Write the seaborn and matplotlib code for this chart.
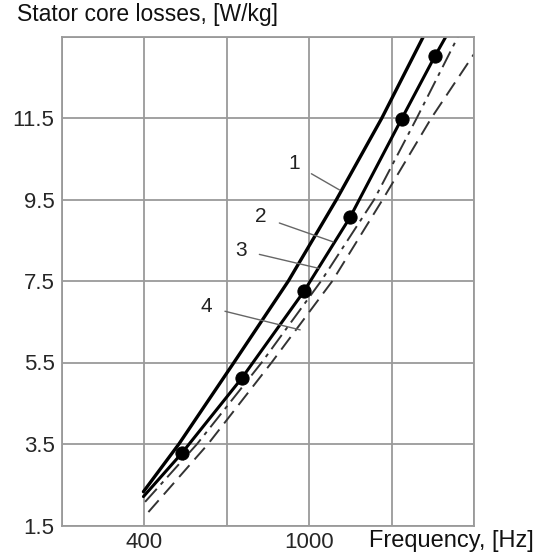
import matplotlib
matplotlib.use("Agg")
import matplotlib.pyplot as plt
import seaborn as sns

# Curve data (frequency in Hz, losses in W/kg)
freq_1 = [398, 527, 727, 925, 1100, 1265, 1416]
loss_1 = [2.33, 3.5, 5.5, 7.5, 9.5, 11.5, 13.5]

freq_2 = [398, 537, 755, 982, 1149, 1337, 1458, 1498]
loss_2 = [2.21, 3.27, 5.11, 7.25, 9.06, 11.48, 13.02, 13.5]

freq_3 = [404, 593, 828, 1044, 1237, 1392, 1542]
loss_3 = [2.08, 3.5, 5.5, 7.5, 9.5, 11.5, 13.5]

freq_4 = [416, 633, 864, 1085, 1268, 1445, 1600]
loss_4 = [1.83, 3.5, 5.5, 7.5, 9.5, 11.5, 13.07]

# measured points on curve 2
meas_freq = [537, 755, 982, 1149, 1337, 1458]
meas_loss = [3.27, 5.11, 7.25, 9.06, 11.48, 13.02]

x_grid = [100, 400, 700, 1000, 1300, 1600]
x_labels = ["", "400", "", "1000", "", ""]
y_grid = [1.5, 3.5, 5.5, 7.5, 9.5, 11.5, 13.5]
y_labels = ["1.5", "3.5", "5.5", "7.5", "9.5", "11.5", ""]

curve_labels = ["1", "2", "3", "4"]
label_text_pos = [(945, 10.38), (826, 9.08), (752, 8.26), (627, 6.87)]
label_tip_pos = [(1112, 9.73), (1088, 8.46), (1036, 7.81), (968, 6.30)]

sns.set_theme(style="white")
plt.rcParams["font.family"] = ["Liberation Sans", "DejaVu Sans"]

fig = plt.figure(figsize=(5.36, 5.54), dpi=100)
ax = fig.add_axes([61.5 / 536, (554 - 525.5) / 554, 412.5 / 536, 489 / 554])

sns.lineplot(x=freq_1, y=loss_1, ax=ax, color="black", linewidth=2.4, sort=False)
sns.lineplot(x=freq_2, y=loss_2, ax=ax, color="black", linewidth=2.2, sort=False)
l3 = sns.lineplot(x=freq_3, y=loss_3, ax=ax, color="#333333", linewidth=1.4, sort=False).lines[-1]
l3.set_dashes([9, 3, 2, 3])
l4 = sns.lineplot(x=freq_4, y=loss_4, ax=ax, color="#333333", linewidth=1.4, sort=False).lines[-1]
l4.set_dashes([8, 4])
sns.scatterplot(x=meas_freq, y=meas_loss, ax=ax, color="black", s=90, edgecolor="black", zorder=5)

for lab, (tx, ty), (px, py) in zip(curve_labels, label_text_pos, label_tip_pos):
    ax.annotate(lab, xy=(px, py), xytext=(tx, ty), fontsize=15, color="#222222",
                ha="center", va="center",
                arrowprops=dict(arrowstyle="-", color="#666666", lw=1.0,
                                shrinkA=7, shrinkB=0))

ax.set_xlim(100, 1600)
ax.set_ylim(1.5, 13.5)
ax.set_xticks(x_grid)
ax.set_xticklabels(x_labels, fontsize=16)
ax.set_yticks(y_grid)
ax.set_yticklabels(y_labels, fontsize=16)
ax.tick_params(length=0, pad=5)
ax.grid(True, color="#9a9a9a", linewidth=1.3)
for s in ax.spines.values():
    s.set_color("#9a9a9a")
    s.set_linewidth(1.3)
ax.set_xlabel("")
ax.set_ylabel("")

fig.text(17 / 536, 1 - 15 / 554, "Stator core losses, [W/kg]", fontsize=16.5,
         ha="left", va="center", color="#111111")
fig.text(534 / 536, 1 - 541 / 554, "Frequency, [Hz]", fontsize=17,
         ha="right", va="center", color="#111111")

fig.savefig("out.png", dpi=100, facecolor="white")
